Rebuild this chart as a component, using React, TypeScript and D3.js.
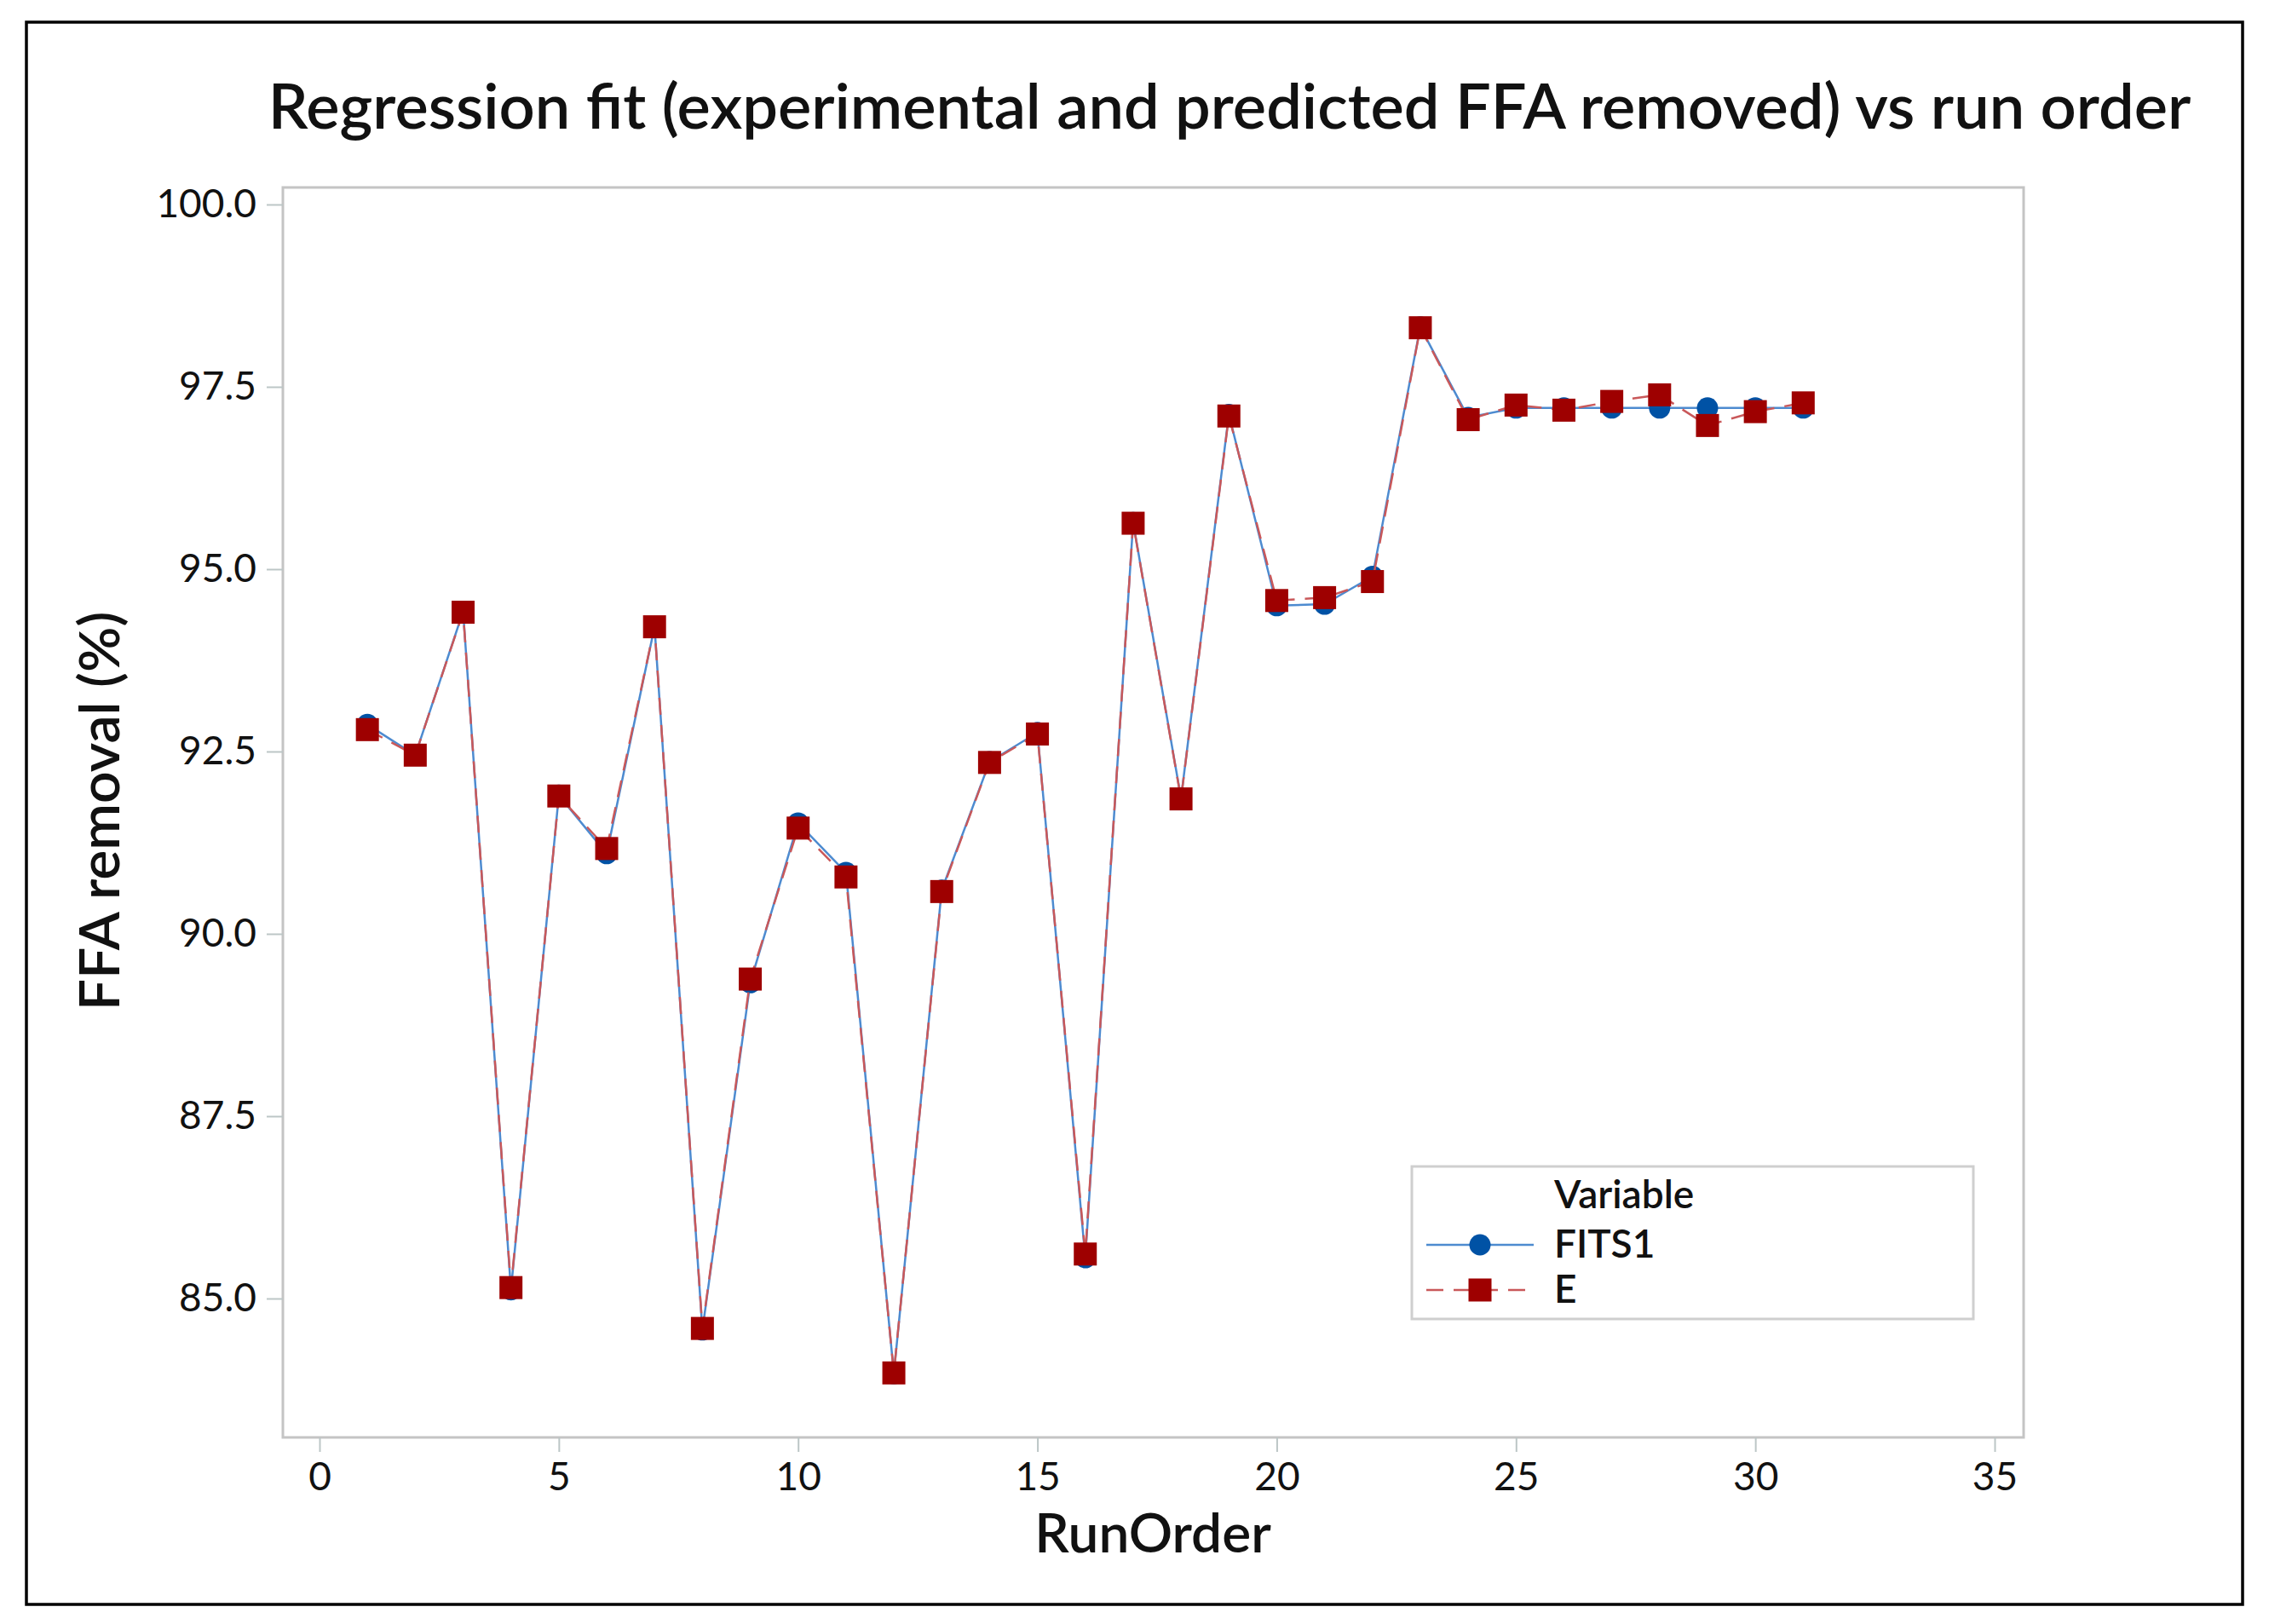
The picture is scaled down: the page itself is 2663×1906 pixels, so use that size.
import React, { useEffect, useRef } from 'react';
import * as d3 from 'd3';

// Run order on the x axis
const runOrder = [1, 2, 3, 4, 5, 6, 7, 8, 9, 10, 11, 12, 13, 14, 15, 16, 17, 18, 19, 20, 21, 22, 23, 24, 25, 26, 27, 28, 29, 30, 31];

// Predicted (regression fit) FFA removal, %
const fits1 = [92.87, 92.45, 94.42, 85.12, 91.9, 91.1, 94.21, 84.57, 89.33, 91.52, 90.84, 83.97, 90.6, 92.36, 92.76, 85.56, 95.64, 91.86, 97.12, 94.5, 94.52, 94.9, 98.32, 97.08, 97.21, 97.21, 97.21, 97.21, 97.21, 97.21, 97.21];

// Experimental FFA removal, %
const experimental = [92.8, 92.45, 94.41, 85.15, 91.89, 91.17, 94.21, 84.59, 89.38, 91.45, 90.78, 83.98, 90.58, 92.35, 92.74, 85.61, 95.63, 91.85, 97.1, 94.57, 94.61, 94.83, 98.31, 97.05, 97.25, 97.18, 97.3, 97.39, 96.97, 97.16, 97.28];

const xTicks = [0, 5, 10, 15, 20, 25, 30, 35];
const yTicks = [85, 87.5, 90, 92.5, 95, 97.5, 100];

const seriesNames = ['FITS1', 'E'];

const W = 2663;
const H = 1906;
const plot = { left: 332, right: 2375, top: 220, bottom: 1687 };
const FONT = 'Lato, "Open Sans", sans-serif';

const blueLine = '#4d8bd0';
const blueDot = '#0052a5';
const redLine = '#c9585a';
const redSquare = '#9e0000';

interface Pt {
    run: number;
    value: number;
}

const App: React.FC = () => {
    const svgRef = useRef<SVGSVGElement>(null);

    useEffect(() => {
        document.body.style.margin = '0';
        if (!svgRef.current) return;
        const svg = d3.select(svgRef.current);
        svg.selectAll('*').remove();

        svg.append('rect').attr('width', W).attr('height', H).attr('fill', '#fff');

        // outer frame
        svg.append('rect')
            .attr('x', 31).attr('y', 26)
            .attr('width', 2601).attr('height', 1857)
            .attr('fill', 'none')
            .attr('stroke', '#000')
            .attr('stroke-width', 3.5);

        const x = d3.scaleLinear().domain([0, 35]).range([375, 2341]);
        const y = d3.scaleLinear().domain([85, 100]).range([1524, 240]);

        // plot frame
        svg.append('rect')
            .attr('x', plot.left).attr('y', plot.top)
            .attr('width', plot.right - plot.left).attr('height', plot.bottom - plot.top)
            .attr('fill', 'none')
            .attr('stroke', '#c4c4c4')
            .attr('stroke-width', 3);

        // axes
        const yAxis = svg.append('g')
            .attr('transform', `translate(${plot.left},0)`)
            .call(d3.axisLeft(y).tickValues(yTicks).tickFormat(d3.format('.1f')).tickSize(19).tickPadding(12));
        const xAxis = svg.append('g')
            .attr('transform', `translate(0,${plot.bottom})`)
            .call(d3.axisBottom(x).tickValues(xTicks).tickFormat(d3.format('d')).tickSize(17).tickPadding(12));

        [yAxis, xAxis].forEach(g => {
            g.select('.domain').remove();
            g.attr('font-family', FONT).attr('font-size', 46);
            g.selectAll('line').attr('stroke', '#bcc6c6').attr('stroke-width', 2);
            g.selectAll('text').attr('fill', '#111');
        });

        // titles
        svg.append('text')
            .attr('x', 1443).attr('y', 151)
            .attr('text-anchor', 'middle')
            .attr('font-family', FONT).attr('font-size', 74).attr('font-weight', 600)
            .attr('fill', '#111')
            .text('Regression fit (experimental and predicted FFA removed) vs run order');

        svg.append('text')
            .attr('x', 1353).attr('y', 1822)
            .attr('text-anchor', 'middle')
            .attr('font-family', FONT).attr('font-size', 64).attr('font-weight', 600)
            .attr('fill', '#111')
            .text('RunOrder');

        svg.append('text')
            .attr('transform', 'translate(140,952) rotate(-90)')
            .attr('text-anchor', 'middle')
            .attr('font-family', FONT).attr('font-size', 66).attr('font-weight', 600)
            .attr('fill', '#111')
            .text('FFA removal (%)');

        const fitData: Pt[] = runOrder.map((r, i) => ({ run: r, value: fits1[i] }));
        const expData: Pt[] = runOrder.map((r, i) => ({ run: r, value: experimental[i] }));

        const line = d3.line<Pt>().x(d => x(d.run)).y(d => y(d.value));

        // FITS1: solid blue line with dots
        svg.append('path')
            .datum(fitData)
            .attr('d', line)
            .attr('fill', 'none')
            .attr('stroke', blueLine)
            .attr('stroke-width', 2.5);
        svg.append('g').selectAll('circle')
            .data(fitData)
            .join('circle')
            .attr('cx', d => x(d.run))
            .attr('cy', d => y(d.value))
            .attr('r', 12.5)
            .attr('fill', blueDot);

        // E: dashed red line with squares
        svg.append('path')
            .datum(expData)
            .attr('d', line)
            .attr('fill', 'none')
            .attr('stroke', redLine)
            .attr('stroke-width', 2.5)
            .attr('stroke-dasharray', '20 12');
        const sq = 27;
        svg.append('g').selectAll('rect')
            .data(expData)
            .join('rect')
            .attr('x', d => x(d.run) - sq / 2)
            .attr('y', d => y(d.value) - sq / 2)
            .attr('width', sq)
            .attr('height', sq)
            .attr('fill', redSquare);

        // legend
        const lg = svg.append('g').attr('transform', 'translate(1657,1369)');
        lg.append('rect')
            .attr('width', 659).attr('height', 179)
            .attr('fill', '#fff')
            .attr('stroke', '#cfcfcf')
            .attr('stroke-width', 3);
        lg.append('text')
            .attr('x', 167).attr('y', 49)
            .attr('font-family', FONT).attr('font-size', 46).attr('font-weight', 600)
            .attr('fill', '#111')
            .text('Variable');

        seriesNames.forEach((name, i) => {
            const cy = 92 + i * 53;
            const row = lg.append('g');
            row.append('line')
                .attr('x1', 17).attr('x2', 143)
                .attr('y1', cy).attr('y2', cy)
                .attr('stroke', i === 0 ? blueLine : redLine)
                .attr('stroke-width', 2.5)
                .attr('stroke-dasharray', i === 0 ? null : '20 12');
            if (i === 0) {
                row.append('circle').attr('cx', 80).attr('cy', cy).attr('r', 12.5).attr('fill', blueDot);
            } else {
                row.append('rect').attr('x', 80 - sq / 2).attr('y', cy - sq / 2).attr('width', sq).attr('height', sq).attr('fill', redSquare);
            }
            row.append('text')
                .attr('x', 167).attr('y', cy + 15)
                .attr('font-family', FONT).attr('font-size', 46).attr('font-weight', 600)
                .attr('fill', '#111')
                .text(name);
        });
    }, []);

    return <svg ref={svgRef} width={W} height={H} style={{ display: 'block' }} />;
};

export default App;
